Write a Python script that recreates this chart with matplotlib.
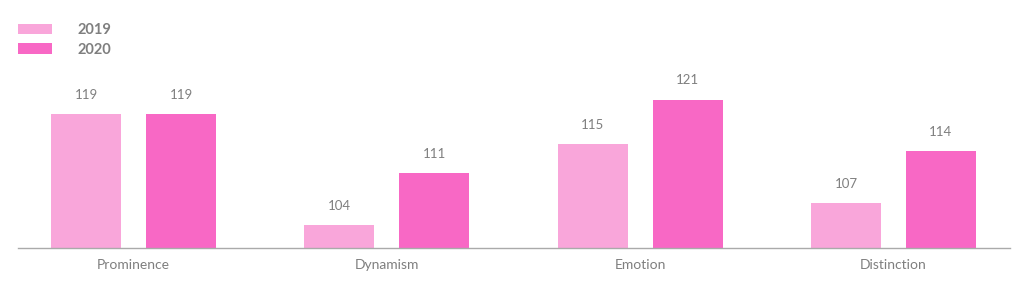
import numpy as np
import matplotlib.pyplot as plt

categories = ['Prominence', 'Dynamism', 'Emotion', 'Distinction']
values_2019 = [119, 104, 115, 107]
values_2020 = [119, 111, 121, 114]
series_names = ['2019', '2020']

color_2019 = '#F9A6DA'
color_2020 = '#F868C5'
text_color = '#7F7F7F'

plt.rcParams['font.family'] = ['Lato', 'DejaVu Sans']

fig = plt.figure(figsize=(10.24, 2.89), dpi=100)
ax = fig.add_axes([18 / 1024, 41 / 289, 992 / 1024, 178 / 289])

x = np.arange(len(categories))
width = 0.276
offset = 0.1875

b1 = ax.bar(x - offset, values_2019, width, color=color_2019, label=series_names[0])
b2 = ax.bar(x + offset, values_2020, width, color=color_2020, label=series_names[1])

# valores acima das barras
for bars in (b1, b2):
    for bar in bars:
        h = bar.get_height()
        ax.annotate(str(h), (bar.get_x() + bar.get_width() / 2, h),
                    xytext=(0, 9.5), textcoords='offset points',
                    ha='center', va='bottom', fontsize=9.5, color=text_color)

ax.set_ylim(100.9, 125.0)
ax.set_xlim(-0.456, 3.46)
ax.set_xticks(x)
ax.set_xticklabels(categories, fontsize=10, color=text_color)
ax.tick_params(axis='x', length=0, pad=8)
ax.set_yticks([])
for side in ['top', 'right', 'left']:
    ax.spines[side].set_visible(False)
ax.spines['bottom'].set_color('#AAAAAA')
ax.spines['bottom'].set_linewidth(1)

leg = fig.legend(handles=[b1, b2], loc='upper left', bbox_to_anchor=(18 / 1024, 1 - 23 / 289),
                 frameon=False, fontsize=10.5, handlelength=2.35, handleheight=0.75,
                 handletextpad=1.7, labelspacing=0.4, borderaxespad=0, borderpad=0)
for t in leg.get_texts():
    t.set_color(text_color)
    t.set_fontweight('bold')

fig.savefig('out.png', dpi=100)
